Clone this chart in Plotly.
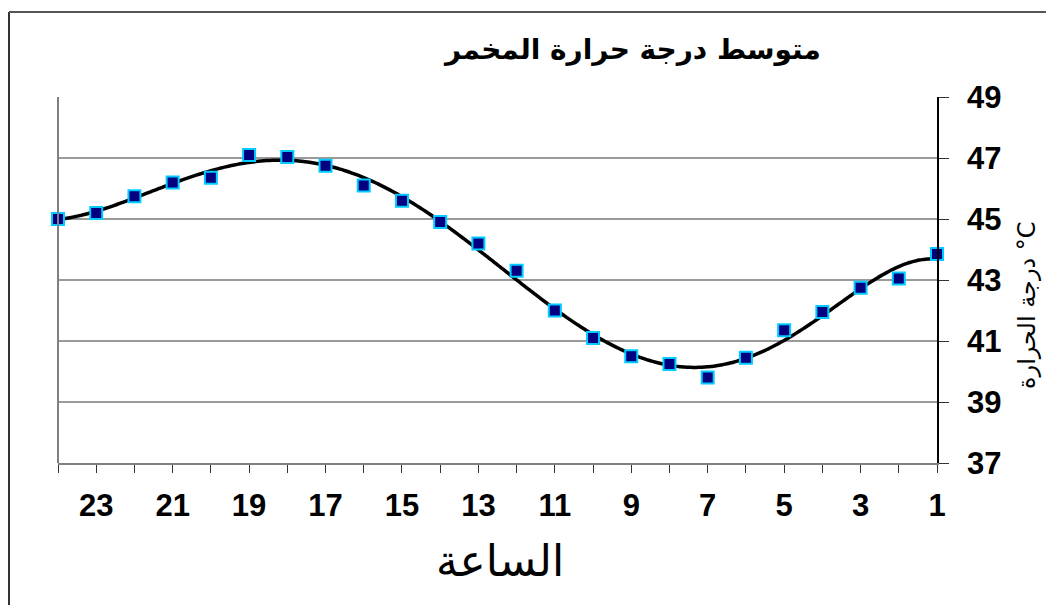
import numpy as np
import plotly.graph_objects as go

# Data
hours = [24, 23, 22, 21, 20, 19, 18, 17, 16, 15, 14, 13, 12, 11, 10, 9, 8, 7, 6, 5, 4, 3, 2, 1]
temps = [45.0, 45.2, 45.75, 46.2, 46.35, 47.1, 47.03, 46.75, 46.1, 45.6, 44.9, 44.2,
         43.3, 42.0, 41.1, 40.5, 40.25, 39.8, 40.45, 41.35, 41.95, 42.75, 43.05, 43.85]
x_tick_vals = list(range(1, 25))
x_tick_text = [str(h) if h % 2 == 1 else "" for h in x_tick_vals]
y_tick_vals = [37, 39, 41, 43, 45, 47, 49]

title_text = "متوسط درجة حرارة المخمر"
x_title = "الساعة"
y_title = "درجة الحرارة °C"

# Polynomial trend line fitted to the data (like a spreadsheet trendline)
coef = np.polyfit(hours, temps, 6)
xs = np.linspace(1, 24, 300)
ys = np.polyval(coef, xs)

fig = go.Figure()
fig.add_trace(go.Scatter(x=xs, y=ys, mode="lines",
                         line=dict(color="black", width=3.5, shape="spline"),
                         hoverinfo="skip", showlegend=False, cliponaxis=False))
fig.add_trace(go.Scatter(x=hours, y=temps, mode="markers",
                         marker=dict(symbol="square", size=12, color="#000080",
                                     line=dict(color="#00CCFF", width=2)),
                         showlegend=False, cliponaxis=False))

# page offset of the figure (body margin) is 8px
W, H = 1046, 597
L, T = 50, 89
PW, PH = 879, 366
R, B = W - L - PW, H - T - PH

# page-pixel -> paper coordinates (plot area spans page x 58..937, y 97..463)
def px_x(p):
    return (p - 58) / PW

def px_y(p):
    return (463 - p) / PH

fig.update_layout(
    width=W, height=H,
    margin=dict(l=L, r=R, t=T, b=B),
    paper_bgcolor="white", plot_bgcolor="white",
    font=dict(family="Liberation Sans, Arial, DejaVu Sans", color="black"),
    xaxis=dict(range=[24, 1], tickvals=x_tick_vals, ticktext=x_tick_text,
               ticks="outside", ticklen=8, tickwidth=1, tickcolor="#333333",
               showline=True, linecolor="#808080", linewidth=2,
               showgrid=False, zeroline=False, ticklabelstandoff=6,
               tickfont=dict(size=31, family="Liberation Sans, Arial", color="black",
                             weight="bold")),
    yaxis=dict(range=[37, 49], tickvals=y_tick_vals, side="right",
               ticks="outside", ticklen=10, tickwidth=1, tickcolor="#333333",
               showline=True, linecolor="black", linewidth=1.5,
               showgrid=True, gridcolor="#9a9a9a", gridwidth=2, zeroline=False,
               ticklabelstandoff=12,
               tickfont=dict(size=31, family="Liberation Sans, Arial", color="black",
                             weight="bold")),
    shapes=[
        dict(type="line", xref="paper", yref="paper", x0=0, x1=0, y0=0, y1=1,
             line=dict(color="#808080", width=2)),
        dict(type="line", xref="paper", yref="paper", x0=px_x(9), x1=px_x(9),
             y0=px_y(12), y1=px_y(610), line=dict(color="#333333", width=2)),
        dict(type="line", xref="paper", yref="paper", x0=px_x(9), x1=px_x(1060),
             y0=px_y(12), y1=px_y(12), line=dict(color="#555555", width=2)),
    ],
    annotations=[
        dict(text="<b>" + title_text + "</b>", xref="paper", yref="paper",
             x=px_x(632), y=px_y(50), xanchor="center", yanchor="middle",
             showarrow=False,
             font=dict(size=28, family="DejaVu Sans", color="black")),
        dict(text=x_title, xref="paper", yref="paper",
             x=px_x(500), y=px_y(560), xanchor="center", yanchor="middle",
             showarrow=False,
             font=dict(size=44, family="DejaVu Sans", color="black")),
        dict(text=y_title, xref="paper", yref="paper", textangle=-90,
             x=px_x(1027), y=px_y(305), xanchor="center", yanchor="middle",
             showarrow=False,
             font=dict(size=24, family="DejaVu Sans", color="black")),
    ],
)

fig.write_html("out.html")
